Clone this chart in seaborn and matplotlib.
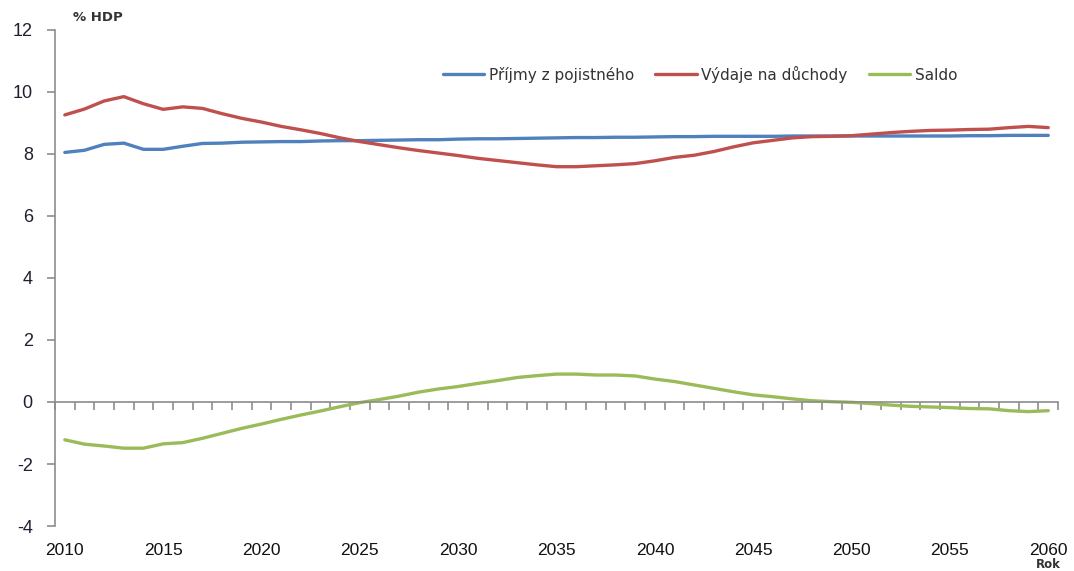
import numpy as np
import pandas as pd
import matplotlib
matplotlib.use("Agg")
import matplotlib.pyplot as plt
import seaborn as sns

years = list(range(2010, 2061))
prijmy = [8.05, 8.12, 8.31, 8.35, 8.15, 8.15, 8.25, 8.34, 8.35, 8.38,
          8.39, 8.40, 8.40, 8.42, 8.43, 8.43, 8.44, 8.45, 8.46, 8.46,
          8.48, 8.49, 8.49, 8.50, 8.51, 8.52, 8.53, 8.53, 8.54, 8.54,
          8.55, 8.56, 8.56, 8.57, 8.57, 8.57, 8.57, 8.58, 8.58, 8.58,
          8.58, 8.58, 8.58, 8.58, 8.58, 8.58, 8.59, 8.59, 8.60, 8.60, 8.60]
vydaje = [9.26, 9.45, 9.71, 9.85, 9.62, 9.44, 9.52, 9.47, 9.30, 9.15,
          9.03, 8.89, 8.78, 8.66, 8.52, 8.40, 8.30, 8.20, 8.11, 8.03,
          7.95, 7.86, 7.79, 7.72, 7.65, 7.59, 7.59, 7.62, 7.65, 7.69,
          7.78, 7.89, 7.96, 8.08, 8.23, 8.36, 8.44, 8.52, 8.56, 8.57,
          8.59, 8.64, 8.69, 8.73, 8.76, 8.77, 8.79, 8.80, 8.85, 8.89, 8.85]
saldo = [-1.22, -1.36, -1.42, -1.49, -1.49, -1.35, -1.31, -1.17, -1.01, -0.85,
         -0.71, -0.56, -0.42, -0.29, -0.15, -0.02, 0.08, 0.19, 0.32, 0.42,
         0.50, 0.60, 0.69, 0.79, 0.85, 0.90, 0.90, 0.87, 0.87, 0.84,
         0.74, 0.66, 0.55, 0.44, 0.33, 0.23, 0.17, 0.10, 0.04, 0.01,
         -0.01, -0.05, -0.10, -0.14, -0.16, -0.18, -0.21, -0.22, -0.28, -0.31, -0.28]

series_names = ["Příjmy z pojistného", "Výdaje na důchody", "Saldo"]
colors = ["#4F81BD", "#C0504D", "#9BBB59"]
y_ticks = list(range(-4, 13, 2))
x_label_years = list(range(2010, 2061, 5))

df = pd.DataFrame({
    "Rok": years * 3,
    "value": prijmy + vydaje + saldo,
    "series": [series_names[0]] * len(years) + [series_names[1]] * len(years) + [series_names[2]] * len(years),
})

sns.set_theme(style="white")
plt.rcParams["font.family"] = ["DejaVu Sans"]

fig = plt.figure(figsize=(10.74, 5.71), dpi=100)
ax = fig.add_axes([0.0512, 0.0788, 0.934, 0.8687])

sns.lineplot(data=df, x="Rok", y="value", hue="series", palette=colors,
             hue_order=series_names, linewidth=2.4, ax=ax, legend=True)

ax.set_xlim(2009.5, 2060.5)
ax.set_ylim(-4, 12)
ax.set_xlabel("")
ax.set_ylabel("")

axis_col = "#8C8C8C"
for s in ["top", "right"]:
    ax.spines[s].set_visible(False)
ax.spines["left"].set_color(axis_col)
ax.spines["left"].set_linewidth(1.2)
ax.spines["bottom"].set_position(("data", 0))
ax.spines["bottom"].set_color(axis_col)
ax.spines["bottom"].set_linewidth(1.2)

ax.set_yticks(y_ticks)
ax.set_yticklabels([str(v) for v in y_ticks], fontfamily="Liberation Sans",
                   fontsize=13, color="#1F1F2F")
ax.tick_params(axis="y", direction="out", length=6, width=1.2, color=axis_col, pad=10, left=True)

half_years = np.arange(2009.5, 2061.0, 1.0)
ax.set_xticks(half_years)
ax.tick_params(axis="x", direction="out", length=6, width=1.2, color=axis_col,
               labelbottom=False, bottom=True)

sec = ax.secondary_xaxis(0)
sec.set_xticks(x_label_years)
sec.set_xticklabels([str(y) for y in x_label_years], fontfamily="Liberation Sans",
                    fontsize=12.5, color="#111111")
sec.tick_params(axis="x", length=0, pad=12)
sec.spines["bottom"].set_visible(False)

handles, labels = ax.get_legend_handles_labels()
leg = ax.legend(handles, labels, ncol=3, frameon=False, loc="center",
                bbox_to_anchor=(0.643, 0.911), fontsize=11, handlelength=2.7,
                handletextpad=0.3, columnspacing=1.4)
for t in leg.get_texts():
    t.set_color("#333333")
for l in leg.get_lines():
    l.set_linewidth(2.4)

ax.text(0.018, 1.012, "% HDP", transform=ax.transAxes, fontsize=9.5,
        fontweight="bold", color="#333333", ha="left", va="bottom")
fig.text(0.988, 0.0, "Rok", fontsize=8.5, fontweight="bold", color="#333333",
         ha="right", va="bottom")

fig.savefig("out.png", dpi=100, facecolor="white")
